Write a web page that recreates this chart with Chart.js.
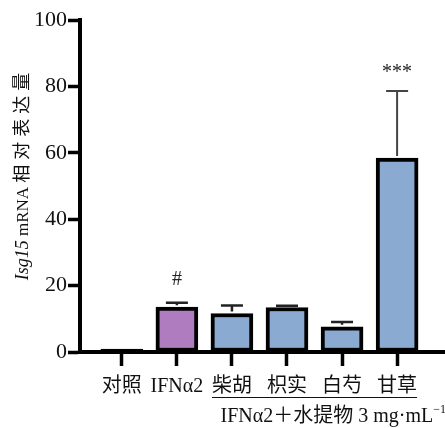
<!DOCTYPE html>
<html>
<head>
<meta charset="utf-8">
<script src="https://cdn.jsdelivr.net/npm/chart.js@4.4.1/dist/chart.umd.min.js"></script>
<style>
  html, body { margin: 0; padding: 0; background: #fff; }
  #wrap { width: 445px; height: 428px; }
</style>
</head>
<body>
<div id="wrap"><canvas id="grafico" width="445" height="428"></canvas></div>
<script>
// dados
const grupos = ['对照', 'IFNα2', '柴胡', '枳实', '白芍', '甘草'];
const expressao = [0.9, 13.5, 11.6, 13.4, 7.6, 58.4];
const erros = [0, 1.3, 2.4, 0.5, 1.4, 20.2];
const marcas = ['', '#', '', '', '', '***'];
const ticksY = [0, 20, 40, 60, 80, 100];

const corBarras = ['#000000', '#b07cc0', '#8aaad2', '#8aaad2', '#8aaad2', '#8aaad2'];
const serif = '"Liberation Serif", "Times New Roman", "Noto Sans CJK SC", serif';
const cjk = '"Noto Sans CJK SC", "Liberation Serif", sans-serif';

const pontos = grupos.map((g, i) => ({ x: i, y: expressao[i] }));

// barras de erro, marcas de significância, legenda inferior e título do eixo Y
const anotacoes = {
  id: 'anotacoes',
  afterDatasetsDraw(chart) {
    const ctx = chart.ctx;
    const xs = chart.scales.x;
    const ys = chart.scales.y;
    ctx.save();

    // barras de erro (só para cima)
    erros.forEach((e, i) => {
      if (!e) return;
      const x = xs.getPixelForValue(i);
      const yBar = ys.getPixelForValue(expressao[i]);
      const yTop = ys.getPixelForValue(expressao[i] + e);
      ctx.strokeStyle = i === 5 ? '#444' : '#222';
      ctx.lineWidth = i === 5 ? 2 : 2.5;
      ctx.beginPath();
      ctx.moveTo(x, yBar - 2);
      ctx.lineTo(x, yTop);
      ctx.moveTo(x - 11, yTop);
      ctx.lineTo(x + 11, yTop);
      ctx.stroke();
    });

    // marcas
    ctx.fillStyle = '#222';
    ctx.textAlign = 'center';
    ctx.textBaseline = 'middle';
    marcas.forEach((m, i) => {
      if (!m) return;
      const x = xs.getPixelForValue(i);
      const y = ys.getPixelForValue(expressao[i] + erros[i] + 7);
      ctx.font = '20px ' + serif;
      ctx.fillText(m, x, y + (m === '***' ? 5 : 0));
    });

    // sublinhado dos grupos tratados
    ctx.font = '20px ' + serif;
    const w2 = ctx.measureText(grupos[2]).width;
    const w5 = ctx.measureText(grupos[5]).width;
    const x0 = xs.getPixelForValue(2) - w2 / 2;
    const x1 = xs.getPixelForValue(5) + w5 / 2;
    ctx.strokeStyle = '#111';
    ctx.lineWidth = 1.2;
    ctx.beginPath();
    ctx.moveTo(x0, 397.5);
    ctx.lineTo(x1, 397.5);
    ctx.stroke();

    // legenda inferior
    const principal = 'IFNα2＋水提物 3 mg·mL';
    const expo = '−1';
    ctx.font = '20px ' + serif;
    const wp = ctx.measureText(principal).width;
    ctx.font = '12px ' + serif;
    const we = ctx.measureText(expo).width;
    let xl = 446 - wp - we;
    ctx.textAlign = 'left';
    ctx.textBaseline = 'alphabetic';
    ctx.fillStyle = '#111';
    ctx.font = '20px ' + serif;
    ctx.fillText(principal, xl, 422);
    ctx.font = '12px ' + serif;
    ctx.fillText(expo, xl + wp, 413);

    // título do eixo Y
    ctx.translate(28, 174);
    ctx.rotate(-Math.PI / 2);
    const partes = [
      { t: 'Isg15', f: 'italic 18px ' + serif, ls: '0px' },
      { t: ' mRNA ', f: '17px ' + serif, ls: '0px' },
      { t: '相对表达量', f: '18px ' + cjk, ls: '5px' }
    ];
    let total = 0;
    partes.forEach(p => {
      ctx.font = p.f;
      ctx.letterSpacing = p.ls;
      p.w = ctx.measureText(p.t).width;
      total += p.w;
    });
    let xt = -total / 2;
    partes.forEach(p => {
      ctx.font = p.f;
      ctx.letterSpacing = p.ls;
      ctx.fillText(p.t, xt, 0);
      xt += p.w;
    });
    ctx.restore();
  }
};

new Chart(document.getElementById('grafico').getContext('2d'), {
  type: 'bar',
  data: {
    labels: grupos,
    datasets: [{
      data: pontos,
      backgroundColor: corBarras,
      borderColor: '#000',
      borderWidth: 4,
      borderSkipped: false,
      barThickness: 42
    }]
  },
  options: {
    responsive: false,
    animation: false,
    devicePixelRatio: 1,
    layout: { padding: { top: 20, right: 0, left: 0, bottom: 0 } },
    scales: {
      x: {
        type: 'linear',
        min: -0.76,
        max: 5.87,
        offset: false,
        afterFit: s => { s.height = 76; },
        afterBuildTicks: s => { s.ticks = grupos.map((g, i) => ({ value: i })); },
        grid: {
          offset: false,
          drawOnChartArea: false,
          tickLength: 14,
          tickWidth: 3.5,
          tickColor: '#000'
        },
        border: { width: 4, color: '#000' },
        ticks: {
          autoSkip: false,
          maxRotation: 0,
          padding: 9,
          color: '#111',
          font: { family: serif, size: 20 },
          callback: v => grupos[v] ?? ''
        }
      },
      y: {
        min: 0,
        max: 100,
        afterFit: s => { s.width = 80; },
        afterBuildTicks: s => { s.ticks = ticksY.map(v => ({ value: v })); },
        grid: {
          drawOnChartArea: false,
          tickLength: 12,
          tickWidth: 3.5,
          tickColor: '#000'
        },
        border: { width: 4, color: '#000' },
        ticks: {
          padding: 1,
          color: '#111',
          font: { family: serif, size: 22 }
        }
      }
    },
    plugins: {
      legend: { display: false },
      tooltip: { enabled: false }
    }
  },
  plugins: [anotacoes]
});
</script>
</body>
</html>
